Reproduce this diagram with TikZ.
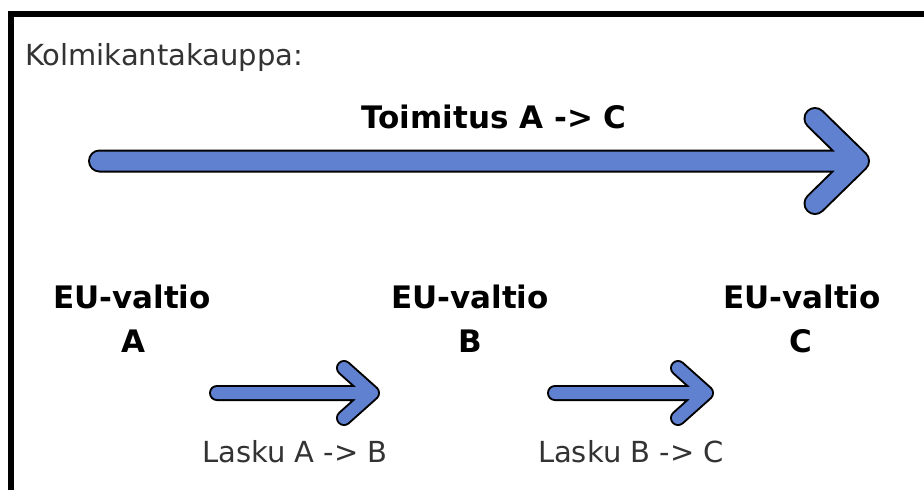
\documentclass[tikz,border=0pt]{standalone}
\usepackage{fontspec}
\setmainfont{DejaVu Sans}
\begin{document}
\begin{tikzpicture}[x=1pt,y=-1pt,
  arrowout/.style={draw=black, line width={#1+4}, line cap=round, line join=round},
  arrowin/.style={draw=arrowblue, line width={#1}, line cap=round, line join=round},
  heading/.style={font=\fontsize{31}{36}\selectfont\bfseries, text=black, inner sep=0pt},
  smalltext/.style={font=\fontsize{29}{34}\selectfont, text=black!80, inner sep=0pt}]
\definecolor{arrowblue}{RGB}{96,128,208}
\useasboundingbox (0,0) rectangle (924,490);
\fill[white] (0,0) rectangle (924,490);
% frame
\draw[line width=6pt, line join=miter] (924,14) -- (11,14) -- (11,490);
% title
\node[smalltext, anchor=base west] (title) at (25,65) {Kolmikantakauppa:};
% big arrow
\coordinate (bs) at (99.5,161);
\coordinate (bt) at (858.5,161);
\coordinate (bu) at (815,118.5);
\coordinate (bl) at (815,203.5);
\draw[arrowout=19] (bs) -- (bt) (bu) -- (bt) -- (bl);
\draw[arrowin=19] (bs) -- (bt) (bu) -- (bt) -- (bl);
\node[heading, anchor=base] (toim) at (494,128) {Toimitus A -> C};
% states
\node[heading, anchor=base] (euA) at (132,308) {EU-valtio};
\node[heading, anchor=base] (lA) at (133,352) {A};
\node[heading, anchor=base] (euB) at (470,308) {EU-valtio};
\node[heading, anchor=base] (lB) at (470,352) {B};
\node[heading, anchor=base] (euC) at (802,308) {EU-valtio};
\node[heading, anchor=base] (lC) at (801,352) {C};
% small arrows
\coordinate (s1s) at (217,393);
\coordinate (s1t) at (372,393);
\coordinate (s1u) at (344,368);
\coordinate (s1l) at (344,418);
\draw[arrowout=12] (s1s) -- (s1t) (s1u) -- (s1t) -- (s1l);
\draw[arrowin=12] (s1s) -- (s1t) (s1u) -- (s1t) -- (s1l);
\coordinate (s2s) at (555,393);
\coordinate (s2t) at (706,393);
\coordinate (s2u) at (678,368);
\coordinate (s2l) at (678,418);
\draw[arrowout=12] (s2s) -- (s2t) (s2u) -- (s2t) -- (s2l);
\draw[arrowin=12] (s2s) -- (s2t) (s2u) -- (s2t) -- (s2l);
\node[smalltext, anchor=base] (laskuAB) at (295,462) {Lasku A -> B};
\node[smalltext, anchor=base] (laskuBC) at (631,462) {Lasku B -> C};
\end{tikzpicture}
\end{document}
